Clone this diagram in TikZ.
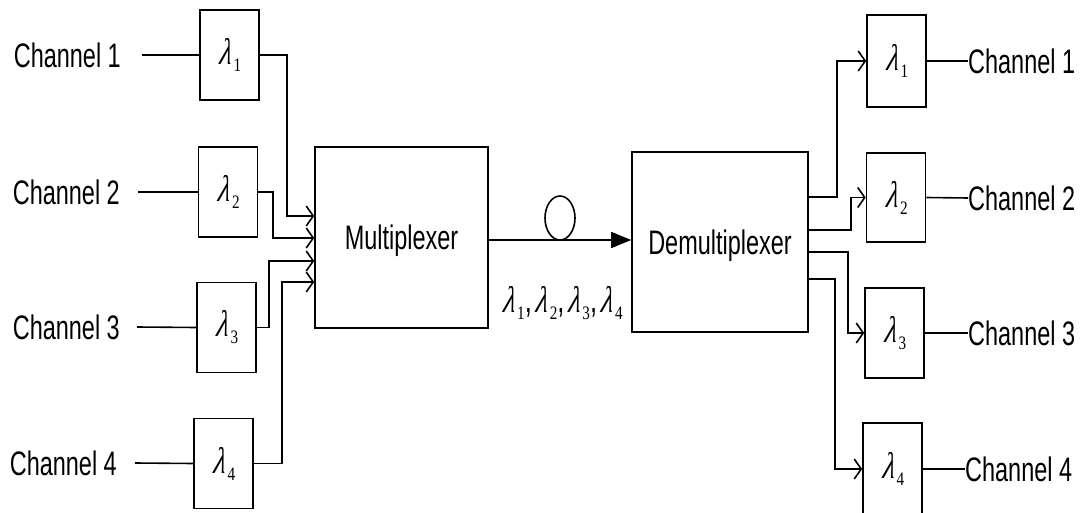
\documentclass[tikz,border=0pt]{standalone}
\usepackage{fontspec}
\setmainfont{Liberation Sans}[FakeStretch=0.69]
\newfontfamily\lamfont{Liberation Serif}[FakeStretch=0.72,FakeSlant=0.25]
\newfontfamily\subfont{Liberation Serif}[FakeStretch=0.8]
\usetikzlibrary{arrows.meta}
\newcommand{\chf}{\fontsize{34}{40}\selectfont}
\newcommand{\lamf}{\fontsize{37}{40}\selectfont}
\newcommand{\lm}[1]{{\lamfont λ}\kern3pt\raisebox{-7pt}{\subfont\fontsize{19}{20}\selectfont #1}}
\begin{document}
\begin{tikzpicture}[x=1pt,y=-1pt,
  ln/.style={line width=1.6pt},
  filt/.style={draw, line width=1.6pt, minimum width=59pt, minimum height=90pt, inner sep=0pt, font=\lamf},
  blk/.style={draw, line width=1.6pt, inner sep=0pt, font=\chf, text depth=0pt},
  lab/.style={inner sep=0pt, font=\chf},
  arr/.style={ln, -{Straight Barb[length=7pt,width=20pt,line width=1.6pt]}},
  fib/.style={ln, -{Triangle[length=20pt,width=16pt]}}]
\clip (0,0) rectangle (1087,513);
\fill[white] (0,0) rectangle (1087,513);
% left filters
\node[filt] (fL1) at (229.5,55) {\lm1};
\node[filt] (fL2) at (228,192) {\lm2};
\node[filt] (fL3) at (226.5,327.5) {\lm3};
\node[filt] (fL4) at (223.5,463.5) {\lm4};
% left labels
\node[lab, anchor=east] (cL1) at (121,55) {Channel 1};
\node[lab, anchor=east] (cL2) at (120,192) {Channel 2};
\node[lab, anchor=east] (cL3) at (120,327) {Channel 3};
\node[lab, anchor=east] (cL4) at (117,463) {Channel 4};
\draw[ln] ([xshift=21pt]cL1.east) -- (fL1.west);
\draw[ln] ([xshift=18pt]cL2.east) -- (fL2.west);
\draw[ln] ([xshift=17pt]cL3.east) -- (fL3.west);
\draw[ln] ([xshift=18pt]cL4.east) -- (fL4.west);
% mux / demux
\node[blk, minimum width=173pt, minimum height=181pt] (mux) at (401.5,237.5) {Multiplexer};
\node[blk, minimum width=176pt, minimum height=180pt] (dmx) at (720,242) {Demultiplexer};
% inputs to mux
\coordinate (i1) at (287,216);
\coordinate (i2) at (273,238);
\coordinate (i3) at (269,261);
\coordinate (i4) at (282,282);
\draw[arr] (fL1.east) -| (i1) -- (mux.west |- i1);
\draw[arr] (fL2.east) -| (i2) -- (mux.west |- i2);
\draw[arr] (fL3.east) -| (i3) -- (mux.west |- i3);
\draw[arr] (fL4.east) -| (i4) -- (mux.west |- i4);
% fibre
\coordinate (fb) at (560,240);
\draw[fib] (mux.east |- fb) -- (dmx.west |- fb);
\draw[ln] (560,218) ellipse [x radius=15, y radius=22];
\node[inner sep=0pt, font=\lamf] (wl) at (562,303) {\lm1,\kern2pt\lm2,\kern2pt\lm3,\kern2pt\lm4};
% right filters
\node[filt, minimum height=92pt] (fR1) at (896.5,61) {\lm1};
\node[filt, minimum height=89pt] (fR2) at (896,197.5) {\lm2};
\node[filt] (fR3) at (894.5,333) {\lm3};
\node[filt, minimum height=92pt] (fR4) at (892.5,469) {\lm4};
% demux outputs
\coordinate (o1) at (837,197);
\coordinate (o2) at (851,230);
\coordinate (o3) at (848,252);
\coordinate (o4) at (835,279);
\draw[arr] (dmx.east |- o1) -- (o1) |- (fR1.west);
\draw[arr] (dmx.east |- o2) -- (o2) |- (fR2.west);
\draw[arr] (dmx.east |- o3) -- (o3) |- (fR3.west);
\draw[arr] (dmx.east |- o4) -- (o4) |- (fR4.west);
% right labels
\node[lab, anchor=west] (cR1) at (968,61) {Channel 1};
\node[lab, anchor=west] (cR2) at (968,198) {Channel 2};
\node[lab, anchor=west] (cR3) at (968,333) {Channel 3};
\node[lab, anchor=west] (cR4) at (965,469) {Channel 4};
\draw[ln] (fR1.east) -- (cR1.west);
\draw[ln] (fR2.east) -- (cR2.west);
\draw[ln] (fR3.east) -- (cR3.west);
\draw[ln] (fR4.east) -- (cR4.west);
\end{tikzpicture}
\end{document}
